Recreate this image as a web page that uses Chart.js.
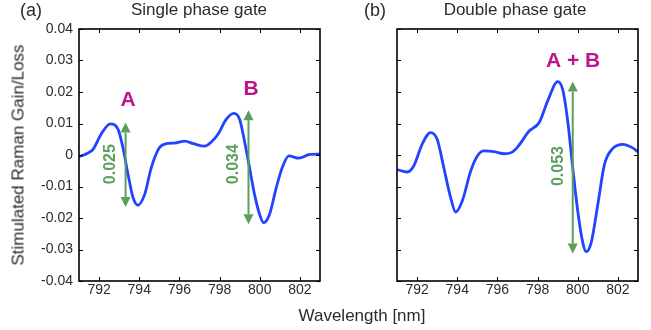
<!DOCTYPE html>
<html>
<head>
<meta charset="utf-8">
<script src="https://cdn.jsdelivr.net/npm/chart.js@4.4.1/dist/chart.umd.min.js"></script>
<style>
html, body { margin: 0; padding: 0; background: #fff; }
#wrap { position: relative; width: 651px; height: 330px; font-family: "Liberation Sans", Arial, sans-serif; color: #2b2b2b; }
#wrap canvas { position: absolute; top: 0; }
.lbl { position: absolute; font-size: 17px; line-height: 1; white-space: nowrap; transform: translate(-50%, -50%); }
</style>
</head>
<body>
<div id="wrap">
  <canvas id="chartA" width="330" height="330" style="left:0"></canvas>
  <canvas id="chartB" width="321" height="330" style="left:330px"></canvas>
  <div class="lbl" style="left:31px;top:10px;font-size:18px">(a)</div>
  <div class="lbl" style="left:199px;top:9px">Single phase gate</div>
  <div class="lbl" style="left:375px;top:10px;font-size:18px">(b)</div>
  <div class="lbl" style="left:515px;top:9px">Double phase gate</div>
  <div class="lbl" style="left:18px;top:155px;transform:translate(-50%,-50%) rotate(-90deg)">Stimulated Raman Gain/Loss</div>
  <div class="lbl" style="left:362px;top:315px">Wavelength [nm]</div>
</div>
<script>
// wavelength ticks and gain ticks
const xTicks = [792, 794, 796, 798, 800, 802];
const yTicks = [-0.04, -0.03, -0.02, -0.01, 0, 0.01, 0.02, 0.03, 0.04];

// (a) single phase gate
const singleX = [791.0, 791.4, 791.7, 792.1, 792.56, 792.94, 793.19, 793.44, 793.69, 793.93, 794.27, 794.6, 795.0, 795.34, 795.76, 796.26, 796.7, 797.25, 797.6, 797.92, 798.33, 798.71, 799.0, 799.24, 799.49, 799.74, 799.99, 800.19, 800.49, 800.82, 801.15, 801.45, 801.95, 802.5, 803.0];
const singleY = [-0.0006, 0.0005, 0.0018, 0.0066, 0.0099, 0.0082, 0.0023, -0.0061, -0.0135, -0.0159, -0.0125, -0.004, 0.0023, 0.0036, 0.0038, 0.0044, 0.0036, 0.0028, 0.0042, 0.0066, 0.0113, 0.0132, 0.0113, 0.0044, -0.004, -0.0125, -0.0188, -0.0215, -0.0188, -0.0104, -0.0035, -0.0003, -0.001, 0.0002, 0.0003];

// (b) double phase gate
const doubleX = [791.0, 791.5, 791.83, 792.25, 792.67, 793.0, 793.33, 793.67, 793.92, 794.25, 794.67, 795.0, 795.33, 795.83, 796.33, 796.67, 797.0, 797.58, 798.08, 798.5, 799.0, 799.25, 799.5, 799.75, 800.0, 800.25, 800.42, 800.67, 801.0, 801.33, 801.75, 802.25, 802.67, 803.0];
const doubleY = [-0.0046, -0.0054, -0.0035, 0.0034, 0.0071, 0.005, -0.004, -0.0135, -0.0181, -0.0146, -0.0051, -0.0003, 0.0013, 0.0011, 0.0004, 0.0007, 0.0025, 0.0076, 0.0103, 0.0171, 0.0233, 0.0208, 0.0108, -0.004, -0.0178, -0.0278, -0.0307, -0.0278, -0.0157, -0.003, 0.0021, 0.0034, 0.0025, 0.001];

// double-headed arrows: position, top, bottom, and the height written beside them
const arrowsA = [
    { x: 793.32, top: 0.0103, bottom: -0.0165, text: "0.025", tx: 792.58, ty: -0.0029 },
    { x: 799.44, top: 0.0142, bottom: -0.022, text: "0.034", tx: 798.71, ty: -0.0029 },
];
const arrowsB = [
    { x: 799.75, top: 0.0233, bottom: -0.0313, text: "0.053", tx: 799.05, ty: -0.0035 },
];
const peakLabelsA = [
    { text: "A", x: 793.44, y: 0.0175 },
    { text: "B", x: 799.57, y: 0.021 },
];
const peakLabelsB = [
    { text: "A + B", x: 799.77, y: 0.0298 },
];

const GREEN = "#5a9f5c";
const MAGENTA = "#c0148c";
const FONT = "'Liberation Sans', Arial, sans-serif";

function toPoints(xs, ys) {
    return xs.map((x, i) => ({ x: x, y: ys[i] }));
}

const framePlugin = {
    id: "frame",
    afterDatasetsDraw(chart, args, opts) {
        const ctx = chart.ctx;
        const a = chart.chartArea;
        const x = chart.scales.x;
        const y = chart.scales.y;
        ctx.save();

        // box round the plot
        ctx.strokeStyle = "#000";
        ctx.lineWidth = 1.6;
        ctx.strokeRect(a.left, a.top, a.right - a.left, a.bottom - a.top);

        // inward tick marks on all four sides
        ctx.lineWidth = 1;
        ctx.beginPath();
        x.ticks.forEach(t => {
            const px = Math.round(x.getPixelForValue(t.value)) + 0.5;
            ctx.moveTo(px, a.bottom); ctx.lineTo(px, a.bottom - 4);
            ctx.moveTo(px, a.top); ctx.lineTo(px, a.top + 4);
        });
        y.ticks.forEach(t => {
            const py = Math.round(y.getPixelForValue(t.value)) + 0.5;
            ctx.moveTo(a.left, py); ctx.lineTo(a.left + 4, py);
            ctx.moveTo(a.right, py); ctx.lineTo(a.right - 4, py);
        });
        ctx.stroke();

        // green arrows
        (opts.arrows || []).forEach(ar => {
            const px = x.getPixelForValue(ar.x);
            const top = y.getPixelForValue(ar.top);
            const bot = y.getPixelForValue(ar.bottom);
            const head = 10, half = 5;
            ctx.strokeStyle = GREEN;
            ctx.fillStyle = GREEN;
            ctx.lineWidth = 2;
            ctx.beginPath();
            ctx.moveTo(px, top + head);
            ctx.lineTo(px, bot - head);
            ctx.stroke();
            ctx.beginPath();
            ctx.moveTo(px, top); ctx.lineTo(px - half, top + head); ctx.lineTo(px + half, top + head);
            ctx.closePath(); ctx.fill();
            ctx.beginPath();
            ctx.moveTo(px, bot); ctx.lineTo(px - half, bot - head); ctx.lineTo(px + half, bot - head);
            ctx.closePath(); ctx.fill();

            ctx.save();
            ctx.translate(x.getPixelForValue(ar.tx), y.getPixelForValue(ar.ty));
            ctx.rotate(-Math.PI / 2);
            ctx.font = "bold 16px " + FONT;
            ctx.textAlign = "center";
            ctx.textBaseline = "middle";
            ctx.fillText(ar.text, 0, 0);
            ctx.restore();
        });

        // magenta peak names
        ctx.fillStyle = MAGENTA;
        ctx.font = "bold 21px " + FONT;
        ctx.textAlign = "center";
        ctx.textBaseline = "middle";
        (opts.labels || []).forEach(l => {
            ctx.fillText(l.text, x.getPixelForValue(l.x), y.getPixelForValue(l.y));
        });
        ctx.restore();
    },
};

function makeConfig(xs, ys, arrows, labels, showY, axisWidth, padRight) {
    return {
        type: "line",
        data: {
            datasets: [{
                data: toPoints(xs, ys),
                borderColor: "#2243ff",
                borderWidth: 2.8,
                pointRadius: 0,
                fill: false,
                cubicInterpolationMode: "monotone",
            }],
        },
        options: {
            responsive: false,
            animation: false,
            layout: { padding: { top: 29, right: padRight, bottom: 0, left: 0 } },
            plugins: {
                legend: { display: false },
                tooltip: { enabled: false },
                frame: { arrows: arrows, labels: labels },
            },
            scales: {
                x: {
                    type: "linear",
                    min: 791,
                    max: 803,
                    grid: { display: false, drawTicks: false },
                    border: { display: false },
                    afterBuildTicks: s => { s.ticks = xTicks.map(v => ({ value: v })); },
                    afterFit: s => { s.height = 49; },
                    ticks: {
                        color: "#2b2b2b",
                        padding: 1,
                        font: { family: FONT, size: 14 },
                    },
                },
                y: {
                    min: -0.04,
                    max: 0.04,
                    grid: { display: false, drawTicks: false },
                    border: { display: false },
                    afterBuildTicks: s => { s.ticks = yTicks.map(v => ({ value: v })); },
                    afterFit: s => { s.width = axisWidth; },
                    ticks: {
                        display: showY,
                        color: "#2b2b2b",
                        padding: 6,
                        font: { family: FONT, size: 14 },
                        callback: v => (v === 0 ? "0" : v.toFixed(2)),
                    },
                },
            },
        },
        plugins: [framePlugin],
    };
}

new Chart(document.getElementById("chartA"),
    makeConfig(singleX, singleY, arrowsA, peakLabelsA, true, 79, 10));
new Chart(document.getElementById("chartB"),
    makeConfig(doubleX, doubleY, arrowsB, peakLabelsB, false, 67, 13));
</script>
</body>
</html>
